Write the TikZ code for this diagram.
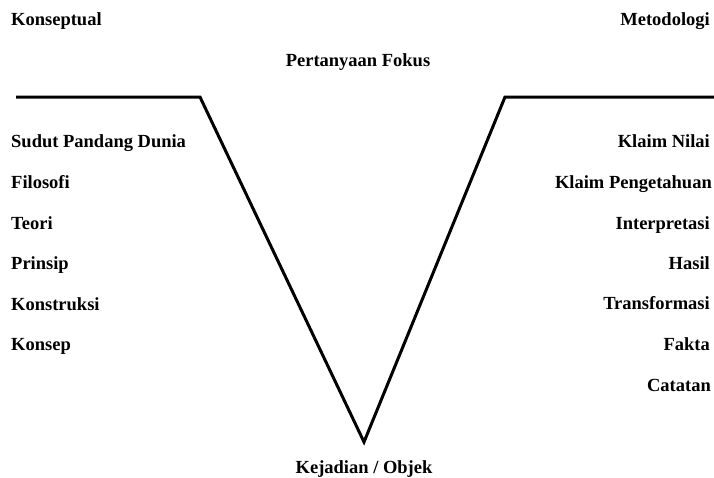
\documentclass[tikz,border=0pt]{standalone}
\usepackage{fontspec}
\setmainfont{Liberation Serif}
\begin{document}
\begin{tikzpicture}[x=1pt,y=-1pt,
  lbl/.style={inner sep=0pt,font=\bfseries\fontsize{18.5}{20}\selectfont},
  leftlbl/.style={lbl,anchor=base west},
  rightlbl/.style={lbl,anchor=base east},
  midlbl/.style={lbl,anchor=base},
  vline/.style={line width=3pt,line join=miter,black}]
  \useasboundingbox (0,0) rectangle (714,477);

  % headings
  \node[leftlbl]  (konseptual) at (11,25) {Konseptual};
  \node[rightlbl] (metodologi) at (710,25) {Metodologi};
  \node[midlbl]   (fokus)      at (358,66) {Pertanyaan Fokus};
  \node[midlbl]   (objek)      at (364,473) {Kejadian / Objek};

  % the V outline
  \coordinate (l0) at (16,97);
  \coordinate (l1) at (200,97);
  \coordinate (v)  at (364,442);
  \coordinate (r1) at (505,97);
  \coordinate (r0) at (714,97);
  \draw[vline] (l0) -- (l1) -- (v) -- (r1) -- (r0);

  % conceptual side
  \node[leftlbl] (dunia)      at (11,147) {Sudut Pandang Dunia};
  \node[leftlbl] (filosofi)   at (11,188) {Filosofi};
  \node[leftlbl] (teori)      at (11,229) {Teori};
  \node[leftlbl] (prinsip)    at (11,269) {Prinsip};
  \node[leftlbl] (konstruksi) at (11,310) {Konstruksi};
  \node[leftlbl] (konsep)     at (11,350) {Konsep};

  % methodological side
  \node[rightlbl] (nilai)     at (710,147) {Klaim Nilai};
  \node[rightlbl] (pengetahuan) at (712,188) {Klaim Pengetahuan};
  \node[rightlbl] (interpretasi) at (710,229) {Interpretasi};
  \node[rightlbl] (hasil)     at (710,269) {Hasil};
  \node[rightlbl] (transformasi) at (710,309) {Transformasi};
  \node[rightlbl] (fakta)     at (710,350) {Fakta};
  \node[rightlbl] (catatan)   at (711,391) {Catatan};
\end{tikzpicture}
\end{document}
